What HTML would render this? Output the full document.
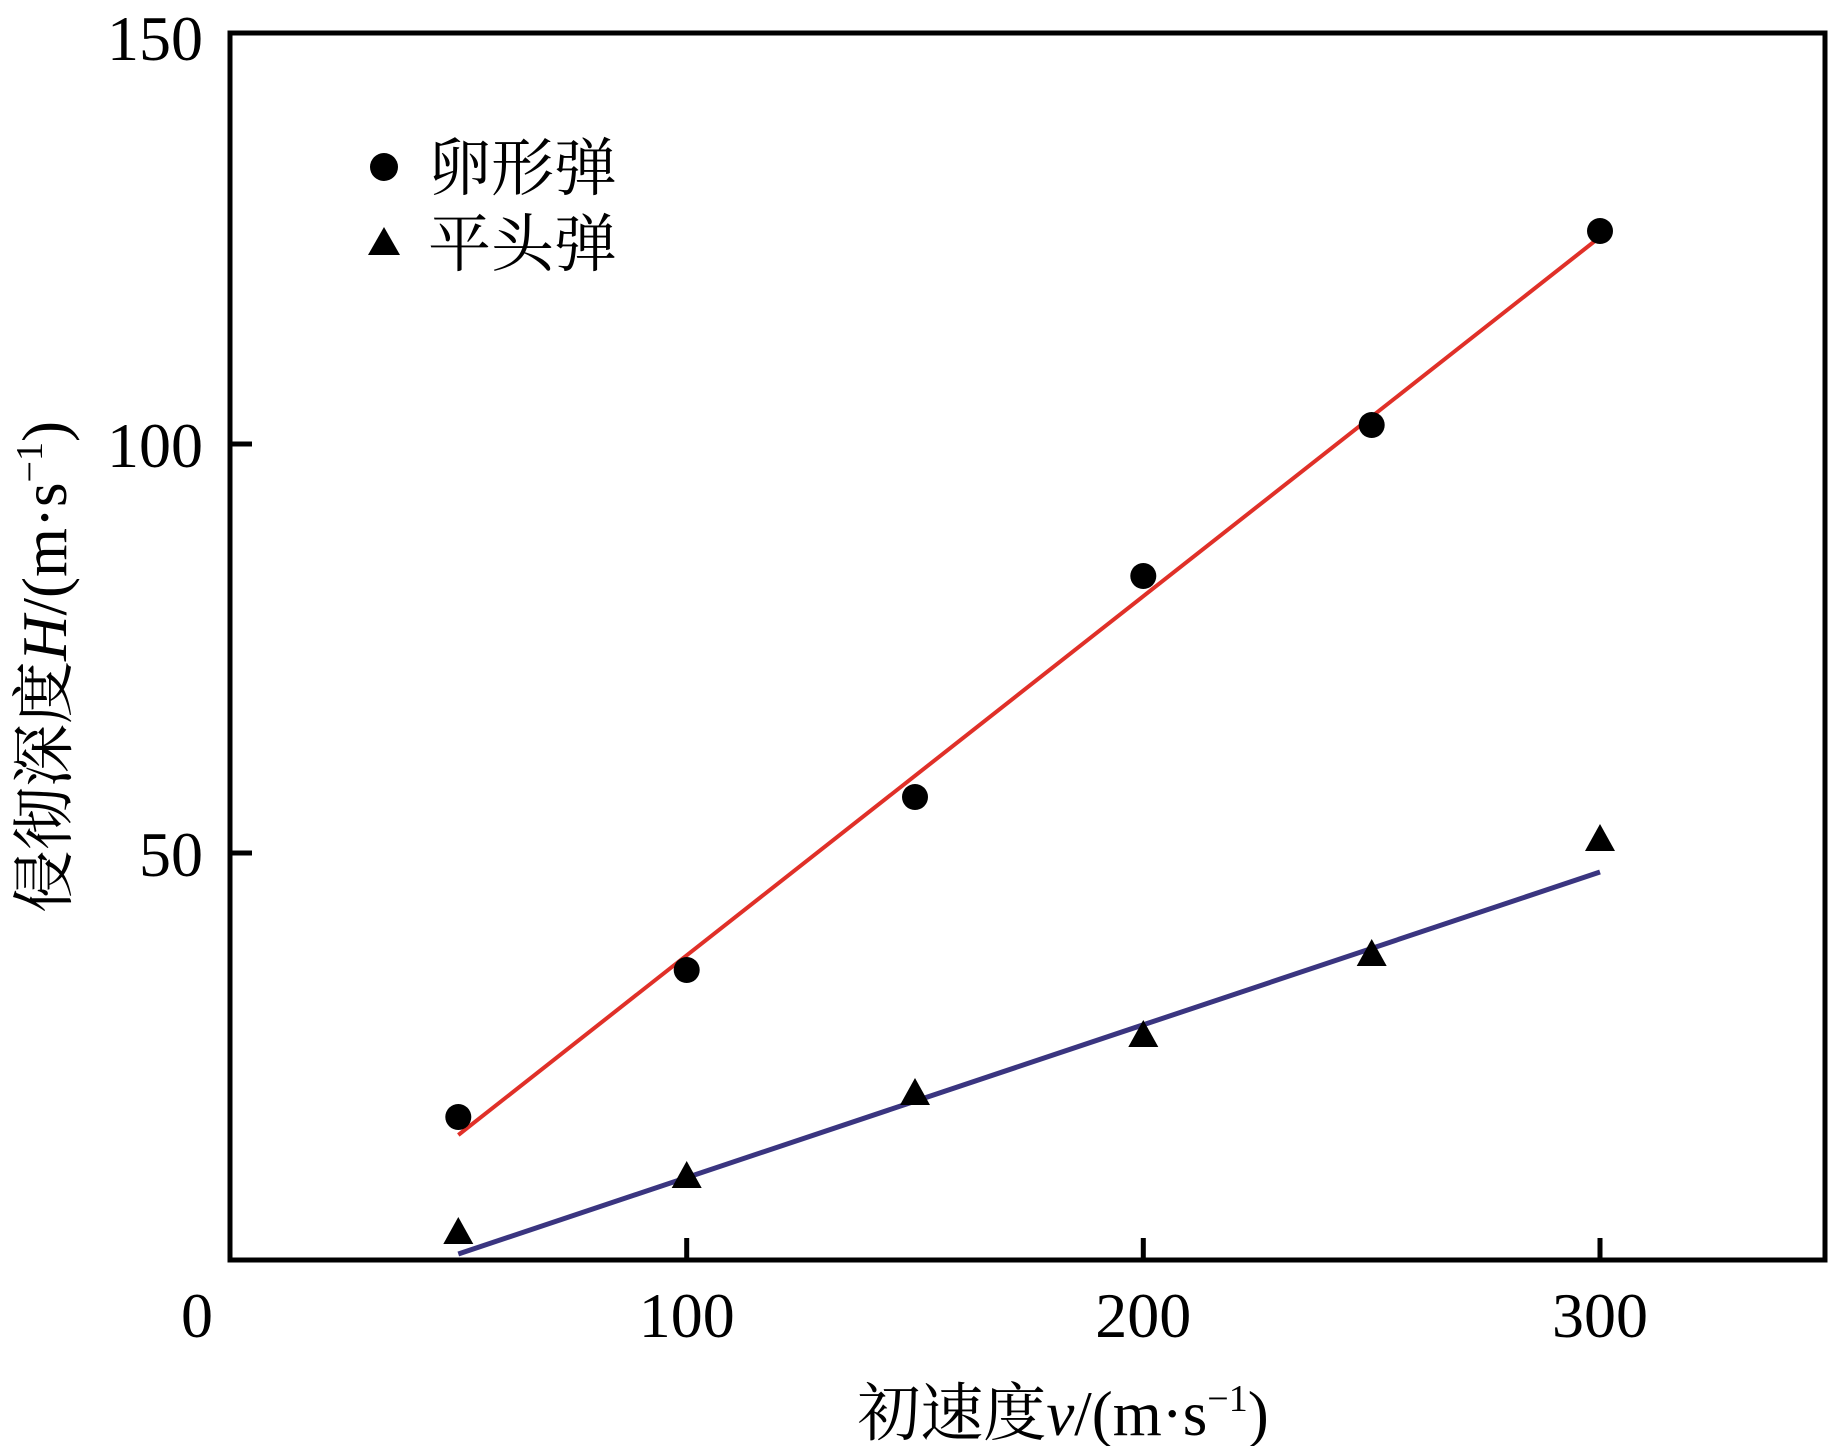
<!DOCTYPE html>
<html><head><meta charset="utf-8"><style>
html,body{margin:0;padding:0;background:#fff;}
svg{display:block;}
text{font-family:"Liberation Serif","Noto Serif CJK SC","Noto Sans CJK SC",serif;fill:#000;}
</style></head><body>
<svg width="1843" height="1446" viewBox="0 0 1843 1446" xmlns="http://www.w3.org/2000/svg">
<rect x="0" y="0" width="1843" height="1446" fill="#fff"/>
<rect x="230" y="33" width="1595" height="1227" fill="none" stroke="#000" stroke-width="5"/>
<g stroke="#000" stroke-width="5">
<line x1="686.7" y1="1260" x2="686.7" y2="1238"/>
<line x1="1143.3" y1="1260" x2="1143.3" y2="1238"/>
<line x1="1600" y1="1260" x2="1600" y2="1238"/>
<line x1="230" y1="853" x2="252" y2="853"/>
<line x1="230" y1="444" x2="252" y2="444"/>
</g>
<g font-size="64" text-anchor="middle">
<text x="197" y="1337">0</text>
<text x="686.7" y="1337">100</text>
<text x="1143.3" y="1337">200</text>
<text x="1600" y="1337">300</text>
</g>
<g font-size="64" text-anchor="end">
<text x="203" y="60">150</text>
<text x="203" y="467">100</text>
<text x="203" y="876">50</text>
</g>
<text x="1063" y="1435" font-size="63" text-anchor="middle">初速度<tspan font-style="italic">v</tspan>/(m·s<tspan font-size="38" dy="-24">−1</tspan><tspan dy="24">)</tspan></text>
<text transform="translate(66,667) rotate(-90)" font-size="63" text-anchor="middle">侵彻深度<tspan font-style="italic">H</tspan>/(m·s<tspan font-size="38" dy="-24">−1</tspan><tspan dy="24">)</tspan></text>
<line x1="458.3" y1="1135" x2="1600" y2="237" stroke="#e03028" stroke-width="4"/>
<line x1="458.3" y1="1254" x2="1600" y2="872" stroke="#3a3580" stroke-width="5"/>
<g fill="#000">
<circle cx="458.3" cy="1117" r="13"/>
<circle cx="686.7" cy="970" r="13"/>
<circle cx="915" cy="797" r="13"/>
<circle cx="1143.3" cy="576" r="13"/>
<circle cx="1371.7" cy="425" r="13"/>
<circle cx="1600" cy="231" r="13"/>
<circle cx="384" cy="167" r="14"/>
</g>
<g fill="#000">
<polygon points="458.3,1217 443.3,1244 473.3,1244"/>
<polygon points="686.7,1161 671.7,1188 701.7,1188"/>
<polygon points="915,1078 900,1105 930,1105"/>
<polygon points="1143.3,1020 1128.3,1047 1158.3,1047"/>
<polygon points="1371.7,939 1356.7,966 1386.7,966"/>
<polygon points="1600,824 1585,851 1615,851"/>
<polygon points="384,227 368,255 400,255"/>
</g>
<g font-size="63">
<text x="428" y="190">卵形弹</text>
<text x="428" y="266">平头弹</text>
</g>
</svg>
</body></html>
